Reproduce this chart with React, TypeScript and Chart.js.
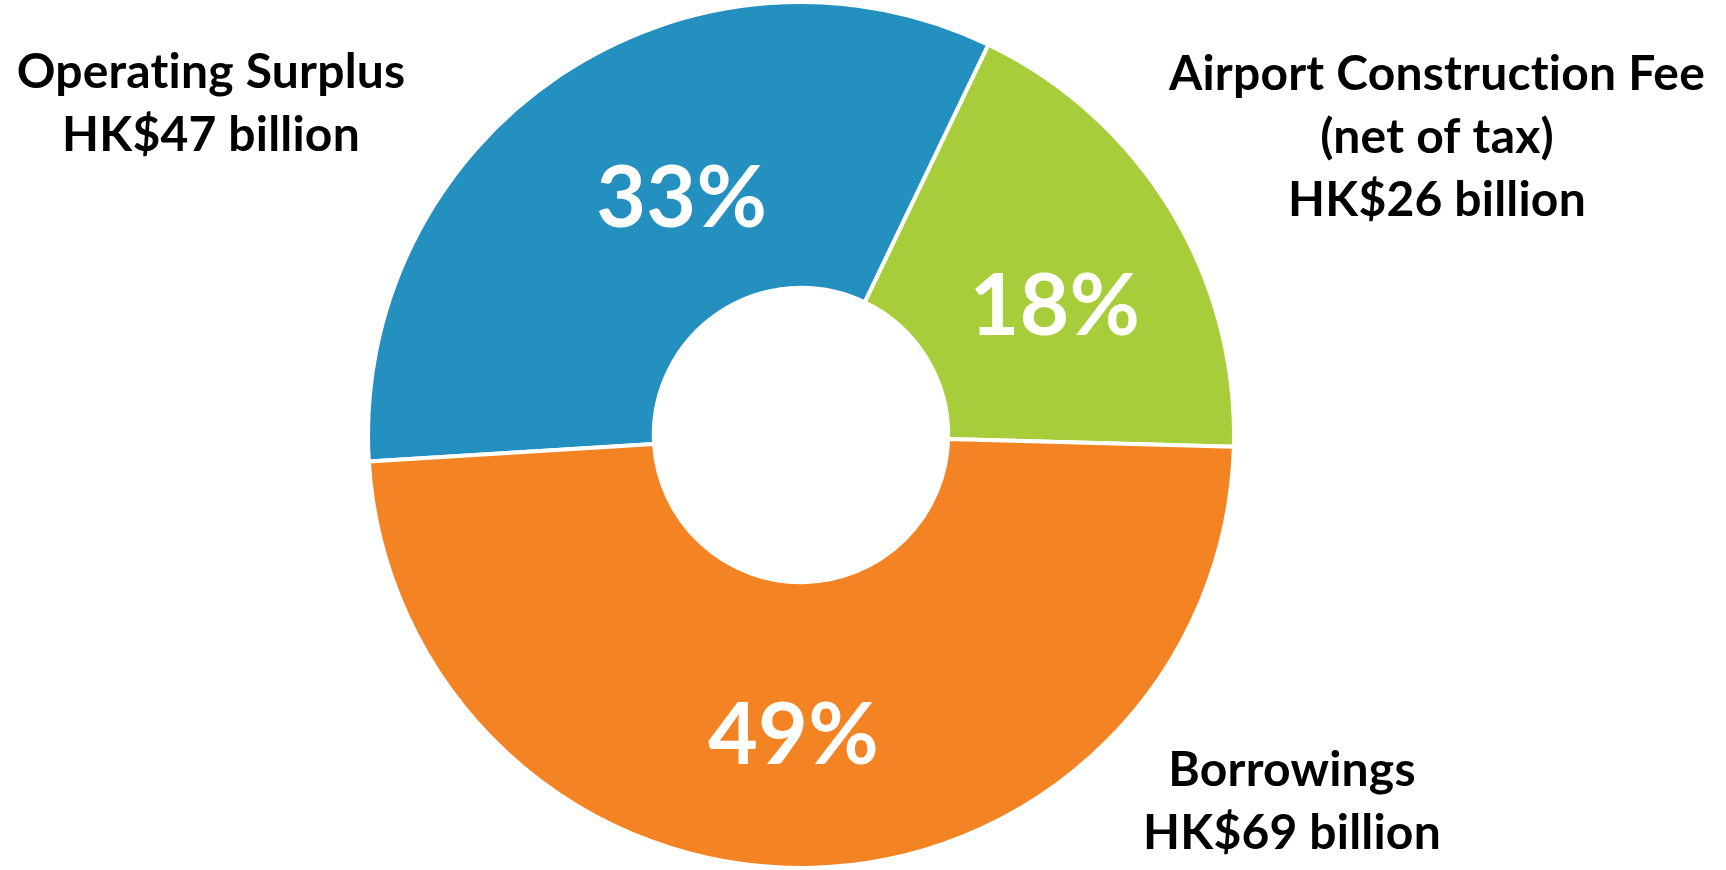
import React, { useEffect, useRef } from "react";
import { Chart, registerables } from "chart.js";

Chart.register(...registerables);

const categories = ["Operating Surplus", "Airport Construction Fee", "Borrowings"];
const labelLines = [
  ["Operating Surplus", "HK$47 billion"],
  ["Airport Construction Fee", "(net of tax)", "HK$26 billion"],
  ["Borrowings", "HK$69 billion"],
];
const valuesBillion = [47, 26, 69];
const percentLabels = ["33%", "18%", "49%"];
const colors = ["#2390C0", "#A7CE3A", "#F48423"];

const FONT = "Lato, 'Open Sans', sans-serif";

const labelPlugin = {
  id: "donutLabels",
  afterDatasetsDraw(chart: any, _args: any, opts: any) {
    const ctx = chart.ctx;
    const meta = chart.getDatasetMeta(0);
    ctx.save();
    try {
      ctx.textRendering = "optimizeSpeed";
      ctx.letterSpacing = "0.2px";
    } catch (e) {}
    meta.data.forEach((arc: any, i: number) => {
      const { x, y, startAngle, endAngle, innerRadius, outerRadius } = arc.getProps(
        ["x", "y", "startAngle", "endAngle", "innerRadius", "outerRadius"],
        true
      );
      // percentage label
      const mid = (startAngle + endAngle) / 2 + (opts.angleNudge[i] * Math.PI) / 180;
      const r = innerRadius + (outerRadius - innerRadius) * opts.radialFrac[i];
      ctx.fillStyle = "#ffffff";
      ctx.font = `bold ${opts.pctSize}px ${FONT}`;
      ctx.textAlign = "center";
      ctx.textBaseline = "middle";
      ctx.fillText(percentLabels[i], x + Math.cos(mid) * r, y + Math.sin(mid) * r);
      // category label
      ctx.fillStyle = "#000000";
      ctx.font = `bold ${opts.catSize}px ${FONT}`;
      ctx.textBaseline = "alphabetic";
      const [ox, oy] = opts.catOffset[i];
      labelLines[i].forEach((line: string, j: number) => {
        ctx.fillText(line, x + ox, y + oy + j * opts.lineGap);
      });
    });
    ctx.restore();
  },
};

export default function App() {
  const ref = useRef<HTMLCanvasElement | null>(null);
  useEffect(() => {
    if (!ref.current) return;
    const chart = new Chart(ref.current, {
      type: "doughnut",
      data: {
        labels: categories,
        datasets: [
          {
            data: valuesBillion,
            backgroundColor: colors,
            borderColor: "#ffffff",
            borderWidth: 4,
            hoverOffset: 0,
          },
        ],
      },
      options: {
        animation: false,
        responsive: false,
        rotation: -93.5,
        cutout: "34%",
        layout: { padding: { left: 0, right: 124, top: 0, bottom: 0 } },
        plugins: {
          legend: { display: false },
          tooltip: { enabled: false },
          donutLabels: {
            pctSize: 86,
            catSize: 48,
            lineGap: 63,
            angleNudge: [7.1, 4.6, 2.4],
            radialFrac: [0.41, 0.48, 0.54],
            catOffset: [
              [-590, -347],
              [636, -345],
              [491, 351],
            ],
          },
        } as any,
      },
      plugins: [labelPlugin],
    });
    return () => chart.destroy();
  }, []);
  return (
    <div style={{ position: "fixed", left: 0, top: 0, width: 1726, height: 870, background: "#fff" }}>
      <canvas ref={ref} width={1726} height={870} style={{ display: "block" }} />
    </div>
  );
}
